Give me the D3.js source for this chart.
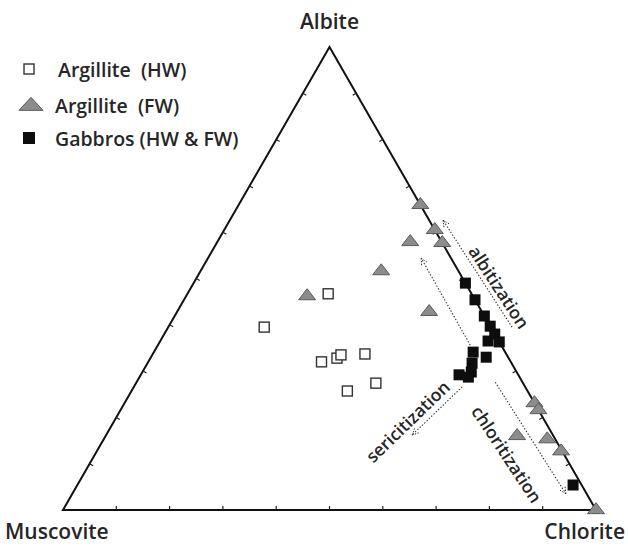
<!DOCTYPE html>
<html><head><meta charset="utf-8">
<script src="https://cdn.jsdelivr.net/npm/d3@7"></script>
<style>body{margin:0;background:#fff}svg{display:block}</style>
</head><body><svg id="c" width="628" height="549"></svg>
<script>
// Component order in every composition: [Albite, Muscovite, Chlorite] (%)
const apexLabels = ["Albite", "Muscovite", "Chlorite"];
const seriesNames = ["Argillite  (HW)", "Argillite  (FW)", "Gabbros (HW & FW)"];
const tickValues = [10, 20, 30, 40, 50, 60, 70, 80, 90];

const argilliteHW = [
  [46.7, 26.9, 26.4], [39.5, 42.5, 18.0], [32.0, 35.5, 32.5], [32.8, 32.2, 35.0],
  [33.5, 31.1, 35.4], [33.7, 26.5, 39.8], [25.7, 33.8, 40.5], [27.4, 27.6, 45.0]
];
const argilliteFW = [
  [65.9, 0, 34.1], [60.5, 0, 39.5], [57.7, 0, 42.3], [57.9, 5.9, 36.2],
  [51.6, 14.5, 33.9], [46.2, 31.1, 22.7], [42.8, 9.9, 47.3], [23.1, 0, 76.9],
  [21.6, 0, 78.4], [16.0, 6.8, 77.2], [15.3, 1.5, 83.2], [12.7, 0.2, 87.1], [0, 0, 100]
];
const gabbros = [
  [49.0, 0, 51.0], [45.4, 0, 54.6], [41.9, 0, 58.1], [39.7, 0, 60.3], [38.0, 0, 62.0],
  [36.5, 2.0, 61.5], [36.3, 0, 63.7], [33.0, 4.1, 62.9], [34.1, 6.0, 59.9], [31.7, 7.4, 60.9],
  [29.8, 8.5, 61.7], [29.2, 11.1, 59.7], [28.7, 9.6, 61.7], [5.4, 1.6, 93.0]
];
// alteration trend arrows: [tail, head]
const trendArrows = [
  [[39.5, -4.0, 64.5], [62.6, -2.6, 40.0]],
  [[35.6, 5.8, 58.6], [54.4, 5.6, 40.0]],
  [[26.6, 11.8, 61.6], [16.2, 26.4, 57.4]],
  [[27.6, 5.1, 67.3], [3.5, 3.9, 92.6]]
];
const trendLabels = ["albitization", "sericitization", "chloritization"];
const trendLabelAt = [[48.2, -6.0, 57.8], [19.2, 25.8, 55.0], [12.1, 10.6, 77.3]];
const trendLabelAngle = [57, -44, 56.5];

const svg = d3.select("#c");
const FONT = "'Open Sans', 'Noto Sans', sans-serif";
const TXT = "#262626";
const xS = d3.scaleLinear().domain([0, 100]).range([63, 596]);
const yS = d3.scaleLinear().domain([0, 100]).range([510, 47]);
const proj = d => [xS(d[2] + d[0] / 2), yS(d[0])];

// frame
const corners = [[100, 0, 0], [0, 100, 0], [0, 0, 100]].map(proj);
svg.append("path").attr("d", d3.line()(corners) + "Z")
  .attr("fill", "none").attr("stroke", "#111").attr("stroke-width", 2).attr("stroke-linejoin", "miter");

// ticks (small inward marks)
const cx = (corners[0][0] + corners[1][0] + corners[2][0]) / 3;
const cy = (corners[0][1] + corners[1][1] + corners[2][1]) / 3;
const sides = [
  v => [0, 100 - v, v],      // bottom
  v => [v, 100 - v, 0],      // left
  v => [v, 0, 100 - v]       // right
];
const tickG = svg.append("g").attr("stroke", "#222").attr("stroke-width", 1.2);
sides.forEach((f, si) => {
  const p0 = proj(f(0)), p1 = proj(f(100));
  let nx = -(p1[1] - p0[1]), ny = p1[0] - p0[0];
  const L = Math.hypot(nx, ny); nx /= L; ny /= L;
  const mx = (p0[0] + p1[0]) / 2, my = (p0[1] + p1[1]) / 2;
  if ((cx - mx) * nx + (cy - my) * ny < 0) { nx = -nx; ny = -ny; }
  tickValues.forEach(v => {
    const p = proj(f(v));
    tickG.append("line").attr("x1", p[0]).attr("y1", p[1])
      .attr("x2", p[0] + nx * 4).attr("y2", p[1] + ny * 4);
  });
});

// trend arrows
const arrowG = svg.append("g").attr("stroke", "#333").attr("fill", "none");
trendArrows.forEach(([t, h]) => {
  const a = proj(t), b = proj(h);
  arrowG.append("line").attr("x1", a[0]).attr("y1", a[1]).attr("x2", b[0]).attr("y2", b[1])
    .attr("stroke-width", 1.1).attr("stroke-dasharray", "1.4,1.8");
  const ang = Math.atan2(b[1] - a[1], b[0] - a[0]);
  const hl = 8;
  [Math.PI - 0.45, Math.PI + 0.45].forEach(da => {
    arrowG.append("line").attr("x1", b[0]).attr("y1", b[1])
      .attr("x2", b[0] + hl * Math.cos(ang + da)).attr("y2", b[1] + hl * Math.sin(ang + da))
      .attr("stroke-width", 1).attr("stroke-dasharray", "1.4,1.4");
  });
});
trendLabels.forEach((txt, i) => {
  const p = proj(trendLabelAt[i]);
  svg.append("text").attr("transform", `translate(${p[0]},${p[1]}) rotate(${trendLabelAngle[i]})`)
    .attr("text-anchor", "middle").attr("dominant-baseline", "central")
    .attr("font-family", FONT).attr("font-size", 17.5).attr("font-weight", 600)
    .attr("fill", TXT).text(txt);
});

// markers
const triPath = (w, h) => `M${-w / 2},${h / 3}L${w / 2},${h / 3}L0,${-2 * h / 3}Z`;
function drawSeries(data, kind, g) {
  data.forEach(d => {
    const p = proj(d);
    if (kind === 0) {
      g.append("rect").attr("x", p[0] - 5).attr("y", p[1] - 5).attr("width", 10).attr("height", 10)
        .attr("fill", "#fff").attr("stroke", "#333").attr("stroke-width", 1.4);
    } else if (kind === 1) {
      g.append("path").attr("d", triPath(17, 11)).attr("transform", `translate(${p[0]},${p[1]})`)
        .attr("fill", "#8c8c8c").attr("stroke", "#5a5a5a").attr("stroke-width", 1);
    } else {
      g.append("rect").attr("x", p[0] - 5.5).attr("y", p[1] - 5.5).attr("width", 11).attr("height", 11)
        .attr("fill", "#0d0d0d");
    }
  });
}
drawSeries(argilliteHW, 0, svg.append("g"));
drawSeries(gabbros, 2, svg.append("g"));
drawSeries(argilliteFW, 1, svg.append("g"));

// apex labels
const labelPos = [
  { x: corners[0][0], y: 21, anchor: "middle" },
  { x: 5, y: 531, anchor: "start" },
  { x: 625, y: 531, anchor: "end" }
];
apexLabels.forEach((t, i) => {
  svg.append("text").attr("x", labelPos[i].x).attr("y", labelPos[i].y)
    .attr("text-anchor", labelPos[i].anchor).attr("dominant-baseline", "central")
    .attr("font-family", FONT).attr("font-size", 21).attr("font-weight", 600)
    .attr("fill", TXT).text(t);
});

// legend
const legY = [69, 105, 138];
const lg = svg.append("g");
seriesNames.forEach((n, i) => {
  const y = legY[i];
  if (i === 0) lg.append("rect").attr("x", 24).attr("y", y - 5).attr("width", 10).attr("height", 10)
    .attr("fill", "#fff").attr("stroke", "#333").attr("stroke-width", 1.4);
  if (i === 1) lg.append("path").attr("d", triPath(24, 13)).attr("transform", `translate(31,${y + 1})`)
    .attr("fill", "#8c8c8c").attr("stroke", "#5a5a5a").attr("stroke-width", 1);
  if (i === 2) lg.append("rect").attr("x", 23).attr("y", y - 6).attr("width", 12).attr("height", 12)
    .attr("fill", "#0d0d0d");
  lg.append("text").attr("x", i === 0 ? 58 : 55).attr("y", y).attr("dominant-baseline", "central")
    .attr("font-family", FONT).attr("font-size", 19.5).attr("font-weight", 600).attr("fill", TXT)
    .style("white-space", "pre").text(n);
});
</script>
</body></html>
